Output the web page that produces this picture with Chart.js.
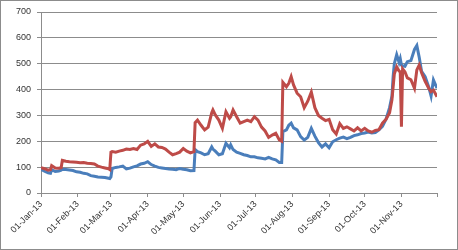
<!DOCTYPE html>
<html>
<head>
<meta charset="utf-8">
<script src="https://cdn.jsdelivr.net/npm/chart.js@4.4.0/dist/chart.umd.min.js"></script>
<style>
html,body{margin:0;padding:0;background:#fff;}
#wrap{width:458px;height:250px;position:relative;}
</style>
</head>
<body>
<div id="wrap"><canvas id="c" width="458" height="250"></canvas></div>
<script>
// days since 01-Jan-13
const days = [0,3,6,8,9,12,15,17,18,21,24,27,30,33,36,39,42,45,48,51,54,57,58,59,60,63,66,69,72,75,78,81,84,87,90,93,96,99,102,105,108,111,114,117,120,123,126,129,130,132,135,138,141,144,145,147,150,153,156,159,160,162,165,168,171,174,177,180,183,186,189,192,195,198,201,203,204,207,209,211,213,216,219,222,225,228,231,234,237,240,243,246,249,252,255,258,261,264,267,270,273,276,279,282,285,288,291,294,296,297,298,300,302,303,304,305,307,309,312,315,317,319,321,324,327,329,331,334];
const redSeries = [98,94,88,90,106,97,96,98,126,123,121,120,119,117,118,115,114,112,104,100,97,94,91,158,160,158,162,165,170,168,172,168,185,190,200,180,190,178,176,170,158,148,152,158,172,162,155,160,272,282,262,244,255,310,321,302,282,250,314,289,295,321,295,270,276,282,276,295,282,255,240,215,224,231,205,200,428,411,424,450,418,386,372,330,355,390,330,300,289,280,285,245,228,268,250,256,248,240,252,240,250,240,235,242,245,270,285,310,360,410,460,488,472,468,256,480,468,445,438,405,476,495,465,432,405,392,398,372];
const blueSeries = [92,84,78,76,90,83,85,88,92,91,89,87,82,80,76,74,67,65,62,61,60,57,56,62,95,99,101,104,93,96,101,105,112,115,121,110,104,99,97,95,93,92,90,95,92,90,86,87,168,160,155,148,152,178,170,162,148,152,192,175,186,168,158,153,148,145,140,140,136,134,132,138,132,128,118,118,237,244,262,270,252,244,218,205,215,250,220,195,178,190,175,198,206,212,216,210,215,222,225,230,232,236,232,234,244,258,285,330,375,450,500,535,505,520,495,492,490,508,512,555,570,525,470,450,410,375,437,405];
const tickDays = [0,31,59,90,120,151,181,212,243,273,304,334];
const tickLabels = ['01-Jan-13','01-Feb-13','01-Mar-13','01-Apr-13','01-May-13','01-Jun-13','01-Jul-13','01-Aug-13','01-Sep-13','01-Oct-13','01-Nov-13',''];
const yTicks = [0,100,200,300,400,500,600,700];

const toPts = vals => days.map((d,i)=>({x:d,y:vals[i]}));
const gridCol = '#8c8c8c';
const fontSpec = {family:'"Liberation Sans", Arial, sans-serif', size:9};

const borderPlugin = {
  id:'outerBorder',
  afterDraw(chart){
    const ctx = chart.ctx;
    ctx.save();
    ctx.strokeStyle = '#8c8c8c';
    ctx.lineWidth = 1;
    ctx.strokeRect(0.5,0.5,chart.width-1,chart.height-1);
    ctx.restore();
  }
};

new Chart(document.getElementById('c'), {
  type:'line',
  data:{
    datasets:[
      {label:'Series 2', data:toPts(redSeries), borderColor:'#BE4B48', borderWidth:3, pointRadius:0, tension:0, fill:false},
      {label:'Series 1', data:toPts(blueSeries), borderColor:'#4A7EBB', borderWidth:3, pointRadius:0, tension:0, fill:false}
    ]
  },
  options:{
    responsive:false,
    animation:false,
    events:[],
    layout:{padding:{top:12,right:21,left:0,bottom:0}},
    plugins:{legend:{display:false},tooltip:{enabled:false}},
    scales:{
      x:{
        type:'linear',
        min:0, max:334,
        afterBuildTicks(scale){ scale.ticks = tickDays.map(v=>({value:v})); },
        afterFit(scale){ scale.height = 57; },
        ticks:{
          autoSkip:false, minRotation:45, maxRotation:45, padding:2,
          color:'#333', font:fontSpec,
          callback(v){ const i = tickDays.indexOf(v); return i>=0 ? tickLabels[i] : ''; }
        },
        grid:{drawOnChartArea:false, drawTicks:true, tickLength:4, color:gridCol},
        border:{display:true, color:gridCol, width:1}
      },
      y:{
        min:0, max:700,
        afterBuildTicks(scale){ scale.ticks = yTicks.map(v=>({value:v})); },
        afterFit(scale){ scale.width = 41; },
        ticks:{padding:6, color:'#333', font:fontSpec},
        grid:{drawOnChartArea:true, drawTicks:true, tickLength:4, color:gridCol, lineWidth:1},
        border:{display:true, color:gridCol, width:1}
      }
    }
  },
  plugins:[borderPlugin]
});
</script>
</body>
</html>
